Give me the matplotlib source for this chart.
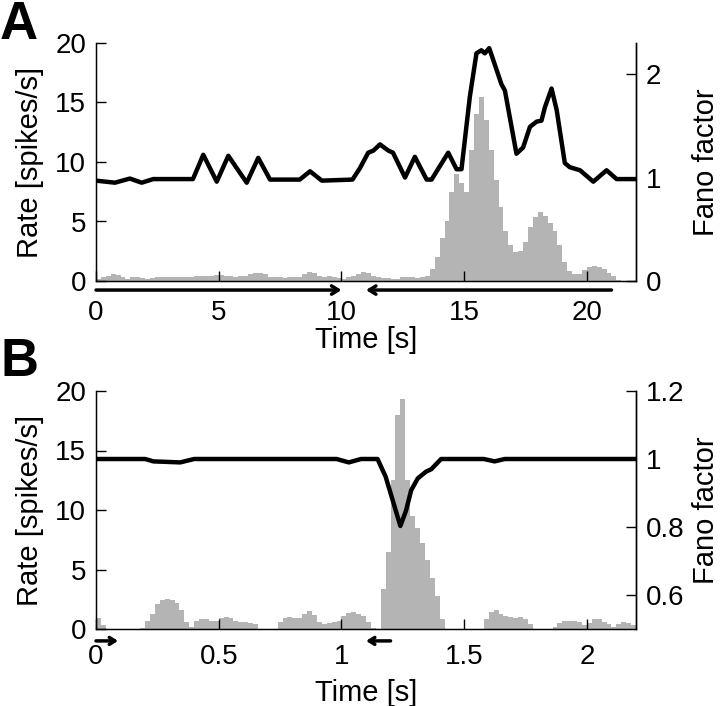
import numpy as np
import matplotlib
matplotlib.use("Agg")
import matplotlib.pyplot as plt

plt.rcParams['font.family'] = ['Liberation Sans', 'DejaVu Sans']

# ---- panel A data: rate histogram (0.2 s bins) and Fano factor trace ----
bin_a = 0.2
rate_a = [0.2, 0.3,
          0.4, 0.6, 0.5, 0.3,
          0.2, 0.3, 0.35, 0.25, 0.2, 0.25, 0.3, 0.3, 0.3,
          0.3, 0.3, 0.35, 0.35, 0.35, 0.4, 0.4, 0.45, 0.45, 0.5,
          0.5, 0.45, 0.4, 0.35, 0.4, 0.45,
          0.6, 0.7, 0.7, 0.55,
          0.35, 0.3, 0.3, 0.25, 0.3, 0.3, 0.35,
          0.55, 0.75, 0.7, 0.45,
          0.3, 0.4, 0.35, 0.25,
          0.2, 0.3, 0.45,
          0.6, 0.75, 0.7, 0.45,
          0.3, 0.25, 0.25, 0.2, 0.2, 0.3, 0.35, 0.3, 0.25, 0.3,
          0.4, 1.0,
          2.0, 3.6, 5.0, 7.5, 9.0,
          8.2, 7.5,
          11.0, 14.0, 15.5, 13.5, 11.0,
          8.5, 6.2, 4.2, 3.0, 2.4,
          2.5, 3.3, 4.5, 5.4,
          5.8, 5.5, 4.9, 4.2, 3.0, 1.6, 0.8,
          0.6, 0.6, 0.9, 1.2, 1.3, 1.2, 1.0, 0.7, 0.4, 0.1,
          0.0, 0.0, 0.0]

fano_a_t = [0, 0.77, 1.38, 1.86, 2.33, 3.95, 4.37, 4.92, 5.39, 6.14, 6.61, 7.09,
            8.3, 8.72, 9.2, 10.45, 10.75, 11.09, 11.3, 11.57, 11.91, 12.1, 12.59,
            12.99, 13.47, 13.67, 14.35, 14.69, 14.89, 15.23, 15.5, 15.7, 15.84,
            16.02, 16.25, 16.52, 16.66, 17.13, 17.4, 17.68, 17.95, 18.15, 18.29,
            18.56, 18.77, 19.1, 19.3, 19.72, 20.26, 20.8, 21.21, 22]
fano_a = [0.97, 0.95, 0.99, 0.95, 0.985, 0.985, 1.22, 0.96, 1.21, 0.95, 1.19, 0.98,
          0.98, 1.06, 0.97, 0.98, 1.09, 1.24, 1.26, 1.32, 1.26, 1.24, 1.0,
          1.2, 0.98, 0.98, 1.24, 1.08, 1.08, 1.78, 2.2, 2.23, 2.2,
          2.25, 2.09, 1.9, 1.84, 1.23, 1.29, 1.49, 1.54, 1.55, 1.68,
          1.86, 1.65, 1.14, 1.1, 1.07, 0.96, 1.07, 0.985, 0.985]

# ---- panel B data: rate histogram (0.02 s bins) and Fano factor trace ----
bin_b = 0.02
rate_b = [0.9, 0.3, 0, 0, 0, 0, 0, 0, 0, 0.1,
          0.7, 1.3, 2.1, 2.4, 2.5, 2.4, 2.2, 1.6, 0.6, 0.2,
          0.7, 0.8, 0.8, 0.7, 0.7, 0.9, 1.0, 0.9, 0.7, 0.6,
          0.6, 0.5, 0.4, 0, 0, 0, 0, 0.6, 0.9, 1.0,
          0.9, 0.9, 1.3, 1.5, 1.2, 0.6, 0.4, 0.5, 0.6, 0.7,
          1.1, 1.35, 1.4, 1.3, 1.1, 0.6, 0.1, 0, 3.4, 6.5,
          12.5, 18.0, 19.3, 12.5, 9.5, 8.5, 7.2, 5.8, 4.3, 2.8,
          0.8, 0, 0, 0, 0, 0, 0, 0, 0, 0.8,
          1.4, 1.6, 1.3, 1.1, 1.0, 0.9, 1.0, 0.8, 0.4, 0,
          0, 0, 0, 0.2, 0.5, 0.7, 0.7, 0.7, 0.6, 0.3,
          0.5, 0.8, 0.8, 0.6, 0.4, 0.2, 0.4, 0.6, 0.5, 0.3]

fano_b_t = [0, 0.2, 0.234, 0.343, 0.4, 0.98, 1.03, 1.08, 1.147, 1.18, 1.209, 1.24,
            1.263, 1.284, 1.311, 1.345, 1.366, 1.406, 1.58, 1.624, 1.665, 2.2]
fano_b = [1.0, 1.0, 0.993, 0.99, 1.0, 1.0, 0.99, 1.0, 1.0, 0.948, 0.878, 0.803,
          0.848, 0.908, 0.943, 0.963, 0.97, 1.0, 1.0, 0.993, 1.0, 1.0]

# arrows below the time axis (start, end) in seconds
arrows_a = [(0, 10), (21, 11)]
arrows_b = [(0, 0.09), (1.2, 1.1)]

gray = '#b4b4b4'
fs_tick = 20
fs_lab = 21

fig = plt.figure(figsize=(7.2, 7.06), dpi=100)


def panel(rect, rate, binw, ft, fv, xlim, xticks, fano_lim, fano_ticks,
          arrows, arrow_y, xpad, xlab_y, letter, letter_y, hw):
    ax = fig.add_axes(rect)
    edges = np.arange(len(rate) + 1) * binw
    ax.stairs(rate, edges, fill=True, color=gray, lw=0)
    ax.set_xlim(*xlim)
    ax.set_ylim(0, 20)
    ax.set_yticks([0, 5, 10, 15, 20])
    ax.set_xticks(xticks)
    ax.set_xticklabels(['%g' % v for v in xticks])
    ax.spines['top'].set_visible(False)
    for s in ['left', 'bottom', 'right']:
        ax.spines[s].set_linewidth(1.0)
    ax.tick_params(direction='in', length=7, width=1.0, labelsize=fs_tick)
    ax.tick_params(axis='y', pad=7)
    ax.tick_params(axis='x', pad=xpad)
    ax.set_ylabel('Rate [spikes/s]', fontsize=fs_lab, ha='center', va='center')
    ax.yaxis.set_label_coords(-0.122, 0.5)
    ax.set_xlabel('Time [s]', fontsize=fs_lab, va='center')
    ax.xaxis.set_label_coords(0.5, xlab_y)

    ax2 = ax.twinx()
    ax2.plot(ft, fv, color='black', lw=3.2, solid_joinstyle='round')
    ax2.set_ylim(*fano_lim)
    ax2.set_yticks(fano_ticks)
    ax2.set_yticklabels(['%g' % v for v in fano_ticks])
    ax2.spines['top'].set_visible(False)
    ax2.spines['right'].set_linewidth(1.0)
    ax2.tick_params(direction='in', length=7, width=1.0, labelsize=fs_tick, pad=7)
    ax2.set_ylabel('Fano factor', fontsize=fs_lab, ha='center', va='center')
    ax2.yaxis.set_label_coords(1.13, 0.5)

    for a0, a1 in arrows:
        ax.annotate('', xy=(a1, arrow_y), xytext=(a0, arrow_y),
                    xycoords=('data', 'axes fraction'),
                    textcoords=('data', 'axes fraction'),
                    arrowprops=dict(arrowstyle='->,head_length=%g,head_width=%g' % (hw * 1.6, hw),
                                    lw=2.5, color='black', shrinkA=0, shrinkB=0),
                    annotation_clip=False)

    fig.text(0.0, letter_y, letter, fontsize=38, fontweight='bold', va='top', ha='left')
    return ax


panel([96 / 720, 1 - 281 / 706, 540 / 720, 238 / 706], rate_a, bin_a, fano_a_t, fano_a,
      (0, 22), [0, 5, 10, 15, 20], (0, 2.3), [0, 1, 2],
      arrows_a, -0.038, 14, -0.25, 'A', 1.0, 0.3)

panel([96 / 720, 1 - 629 / 706, 540 / 720, 238 / 706], rate_b, bin_b, fano_b_t, fano_b,
      (0, 2.2), [0, 0.5, 1, 1.5, 2], (0.5, 1.2), [0.6, 0.8, 1, 1.2],
      arrows_b, -0.05, 11, -0.27, 'B', 1 - 337 / 706, 0.25)

fig.savefig('out.png', dpi=100)
